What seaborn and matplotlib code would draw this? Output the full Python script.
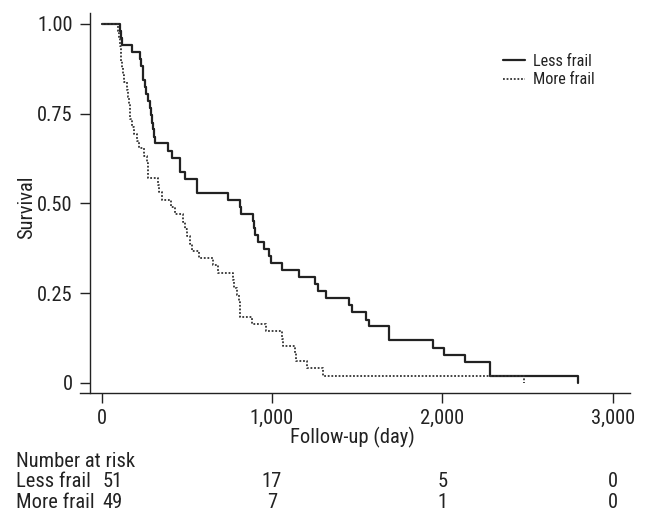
import os
import matplotlib
matplotlib.use("Agg")
import matplotlib.pyplot as plt
import matplotlib.transforms as mtransforms
from matplotlib import font_manager as fm
import seaborn as sns
import pandas as pd

# Kaplan-Meier steps (days, survival)
less_days = [0, 107, 112, 117, 176, 225, 230, 240, 245, 255, 262, 272, 283, 288, 293,
             300, 305, 315, 391, 414, 458, 462, 489, 558, 560, 743, 812, 816, 890, 893,
             901, 920, 953, 984, 994, 1057, 1160, 1252, 1272, 1315, 1454, 1472, 1550,
             1570, 1687, 1690, 1944, 2012, 2132, 2280, 2795]
less_surv = [1.0, 0.980, 0.961, 0.941, 0.922, 0.902, 0.882, 0.863, 0.843, 0.824, 0.804,
             0.784, 0.765, 0.745, 0.725, 0.706, 0.686, 0.667, 0.647, 0.627, 0.608, 0.588,
             0.569, 0.549, 0.529, 0.510, 0.490, 0.471, 0.451, 0.431, 0.412, 0.392, 0.373,
             0.353, 0.333, 0.314, 0.294, 0.275, 0.255, 0.235, 0.216, 0.196, 0.176, 0.157,
             0.137, 0.118, 0.098, 0.078, 0.059, 0.020, 0.0]

more_days = [0, 98, 103, 107, 112, 116, 120, 124, 129, 147, 156, 162, 165, 168, 176, 191,
             205, 220, 250, 264, 270, 274, 329, 336, 352, 407, 430, 475, 489, 503, 518,
             528, 573, 656, 685, 769, 780, 795, 805, 810, 812, 881, 965, 1057, 1063, 1135,
             1140, 1204, 1298, 2477]
more_surv = [1.0, 0.980, 0.959, 0.939, 0.918, 0.898, 0.878, 0.857, 0.837, 0.816, 0.796,
             0.776, 0.755, 0.735, 0.714, 0.694, 0.673, 0.653, 0.633, 0.612, 0.592, 0.571,
             0.551, 0.531, 0.510, 0.490, 0.469, 0.449, 0.429, 0.408, 0.388, 0.367, 0.347,
             0.327, 0.306, 0.286, 0.265, 0.245, 0.224, 0.204, 0.184, 0.163, 0.143, 0.122,
             0.102, 0.082, 0.061, 0.041, 0.020, 0.0]

group_names = ["Less frail", "More frail"]
risk_times = [0, 1000, 2000, 3000]
risk_less = [51, 17, 5, 0]
risk_more = [49, 7, 1, 0]

x_ticks = [0, 1000, 2000, 3000]
x_ticklabels = ["0", "1,000", "2,000", "3,000"]
y_ticks = [0, 0.25, 0.5, 0.75, 1.0]
y_ticklabels = ["0", "0.25", "0.50", "0.75", "1.00"]

sns.set_theme(style="ticks")
plt.rcParams["font.family"] = ["DejaVu Sans"]


# the original text is a tall, narrow sans: pick the installed regular sans face whose
# width / cap-height ratio for "Number at risk" is closest to the picture's (~7.4)
def pick_font():
    families = ["DejaVu Sans", "Liberation Sans", "Noto Sans", "Roboto", "Open Sans",
                "Lato", "Inter"]
    bad = ["mono", "serif", "math", "symbol", "display", "bold", "italic", "oblique",
           "light", "medium", "black", "thin", "semi", "extra", "ultra", "heavy", "cjk"]
    best, best_score = None, None
    for f in fm.fontManager.ttflist:
        b = os.path.basename(f.fname).lower()
        if not any(f.name.startswith(fam) for fam in families):
            continue
        if any(w in b for w in bad) or f.style != "normal":
            continue
        try:
            font = fm.get_font(f.fname)
            font.set_size(100, 72)
            font.set_text("Number at risk")
            w = font.get_width_height()[0] / 64
            cap = font.load_char(ord("H")).height / 64
        except Exception:
            continue
        if cap <= 0:
            continue
        score = abs(w / cap - 7.4)
        if best_score is None or score < best_score:
            best, best_score = (f.fname, cap / 100), score
    return best


picked = pick_font()
if picked:
    font_file, cap_ratio = picked
else:
    font_file, cap_ratio = None, 0.73


def fp(cap_px):
    # font size chosen so that capitals are cap_px pixels tall
    size = cap_px / cap_ratio * 0.72
    if font_file:
        return fm.FontProperties(fname=font_file, size=size)
    return fm.FontProperties(family="DejaVu Sans", size=size)


main_cap = 14.8
ink = "#222222"

fig = plt.figure(figsize=(6.45, 5.2), dpi=100)
ax = fig.add_axes([80 / 645, 1 - 392.7 / 520, 550 / 645, 380 / 520])

df_less = pd.DataFrame({"day": less_days, "surv": less_surv})
df_more = pd.DataFrame({"day": more_days, "surv": more_surv})

sns.lineplot(data=df_less, x="day", y="surv", ax=ax, drawstyle="steps-post",
             color=ink, linewidth=1.6, label=group_names[0])
sns.lineplot(data=df_more, x="day", y="surv", ax=ax, drawstyle="steps-post",
             color="#333333", linewidth=1.3, linestyle=(0, (1, 1)), label=group_names[1])

ax.set_xlim(-127, 3102)
ax.set_ylim(-0.0279, 1.0315)

for side in ["top", "right"]:
    ax.spines[side].set_visible(False)
ax.spines["left"].set_position(("data", -68.7))
for side in ["left", "bottom"]:
    ax.spines[side].set_color(ink)
    ax.spines[side].set_linewidth(1.0)

ax.set_xticks(x_ticks)
ax.set_xticklabels(x_ticklabels, fontproperties=fp(main_cap), color=ink)
ax.set_yticks(y_ticks)
ax.set_yticklabels(y_ticklabels, fontproperties=fp(main_cap), color=ink)
ax.tick_params(axis="both", direction="out", length=7.5, width=1.0, color=ink)
ax.tick_params(axis="x", pad=4)
ax.tick_params(axis="y", pad=5)

ax.set_xlabel("Follow-up (day)", fontproperties=fp(main_cap), color=ink)
ax.xaxis.set_label_coords(0.4945, -0.09)
ax.set_ylabel("Survival", fontproperties=fp(main_cap), color=ink)
ax.yaxis.set_label_coords(-0.08, 0.489)

ax.legend(loc="upper left", bbox_to_anchor=(503 / 645, 1 - 54 / 520),
          bbox_transform=fig.transFigure, frameon=False, prop=fp(11.7),
          handlelength=1.35, handletextpad=0.5, labelspacing=0.2,
          borderpad=0, borderaxespad=0, labelcolor=ink)

# number at risk table
trans = mtransforms.blended_transform_factory(ax.transData, fig.transFigure)
fig.text(15.7 / 645, 1 - 466.7 / 520, "Number at risk", fontproperties=fp(main_cap),
         color=ink, va="baseline")
rows = [(group_names[0], risk_less, 487.3), (group_names[1], risk_more, 508.3)]
for name, counts, base in rows:
    fig.text(15.7 / 645, 1 - base / 520, name, fontproperties=fp(main_cap), color=ink,
             va="baseline")
    for t, n in zip(risk_times, counts):
        xpos = t + 66 if t == 0 else t
        ax.text(xpos, 1 - base / 520, str(n), transform=trans, fontproperties=fp(main_cap),
                color=ink, ha="center", va="baseline")

fig.savefig("out.png", dpi=100, facecolor="white")
